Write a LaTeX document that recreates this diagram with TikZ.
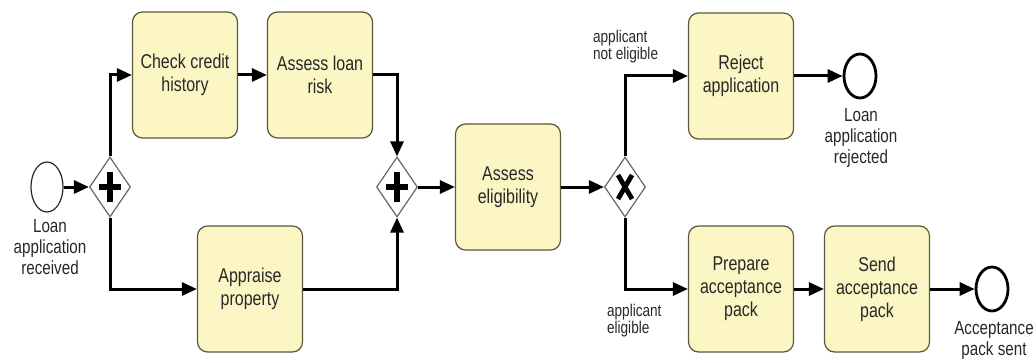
\documentclass[tikz,border=0pt]{standalone}
\usepackage{fontspec}
\setmainfont{Liberation Sans}[FakeStretch=0.8]
\usepackage[dvipsnames]{xcolor}
\usepackage{tikz}
\usetikzlibrary{shapes.geometric,arrows.meta}

\definecolor{taskfill}{RGB}{252,246,196}
\definecolor{taskline}{RGB}{90,88,60}
\definecolor{inkgray}{RGB}{40,40,40}

\tikzset{
  task/.style={draw=taskline, fill=taskfill, rounded corners=5pt, line width=0.6pt,
    minimum width=52.5pt, minimum height=63pt, align=center, text=inkgray,
    font=\fontsize{10}{11.5}\selectfont},
  gate/.style={diamond, draw=gray!80!black, fill=white, line width=0.6pt,
    minimum width=20.5pt, minimum height=30pt, inner sep=0pt},
  startev/.style={ellipse, draw=inkgray, line width=0.6pt, inner sep=0pt,
    minimum width=16pt, minimum height=25pt},
  endev/.style={ellipse, draw=black, line width=1.4pt, inner sep=0pt,
    minimum width=16pt, minimum height=22pt},
  flow/.style={line width=1.5pt, -{Triangle[length=7.5pt,width=6.5pt]}},
  gatemark/.style={line width=2.8pt},
  evlabel/.style={align=center, text=inkgray, font=\fontsize{9.5}{10.5}\selectfont},
  condlabel/.style={align=left, anchor=west, text=inkgray, font=\fontsize{8.5}{8.5}\selectfont}
}

\begin{document}
\begin{tikzpicture}[x=0.5pt, y=-0.5pt]
    \useasboundingbox (0,0) rectangle (1036,363);

    % events and gateways
    \node[startev] (start) at (47,187) {};
    \node[gate] (split) at (110,187) {};
    \node[gate] (join) at (397,187) {};
    \node[gate] (decide) at (625,187) {};
    \node[endev] (rejected) at (860,76) {};
    \node[endev] (sent) at (992,289) {};

    \draw[gatemark] ([yshift=-7.5pt]split.center) -- ([yshift=7.5pt]split.center)
                    ([xshift=-5.5pt]split.center) -- ([xshift=5.5pt]split.center);
    \draw[gatemark] ([yshift=-7.5pt]join.center) -- ([yshift=7.5pt]join.center)
                    ([xshift=-5.5pt]join.center) -- ([xshift=5.5pt]join.center);
    \draw[line width=2.4pt] ([shift={(-3.5pt,-6pt)}]decide.center) -- ([shift={(3.5pt,6pt)}]decide.center)
                            ([shift={(-3.5pt,6pt)}]decide.center) -- ([shift={(3.5pt,-6pt)}]decide.center);

    % tasks
    \node[task] (check) at (185,75) {Check credit\\history};
    \node[task] (risk) at (320,75) {Assess loan\\risk};
    \node[task] (appraise) at (250,289) {Appraise\\property};
    \node[task] (elig) at (508,187) {Assess\\eligibility};
    \node[task] (reject) at (741,76) {Reject\\application};
    \node[task] (prepare) at (741,289) {Prepare\\acceptance\\pack};
    \node[task] (send) at (877,289) {Send\\acceptance\\pack};

    % sequence flows
    \draw[flow] (start) -- (split);
    \draw[flow] (split.north) |- (check.west);
    \draw[flow] (check) -- (risk);
    \draw[flow] (risk.east) -| (join.north);
    \draw[flow] (split.south) |- (appraise.west);
    \draw[flow] (appraise.east) -| (join.south);
    \draw[flow] (join) -- (elig);
    \draw[flow] (elig) -- (decide);
    \draw[flow] (decide.north) |- (reject.west);
    \draw[flow] (decide.south) |- (prepare.west);
    \draw[flow] (reject) -- (rejected);
    \draw[flow] (prepare) -- (send);
    \draw[flow] (send) -- (sent);

    % labels
    \node[evlabel] (startlbl) at (50,247) {Loan\\application\\received};
    \node[evlabel] (rejlbl) at (861,138) {Loan\\application\\rejected};
    \node[evlabel] (sentlbl) at (994,340) {Acceptance\\pack sent};
    \node[condlabel] (noteligible) at (586,47) {applicant\\not eligible};
    \node[condlabel] (eligible) at (600,321) {applicant\\eligible};
\end{tikzpicture}
\end{document}
